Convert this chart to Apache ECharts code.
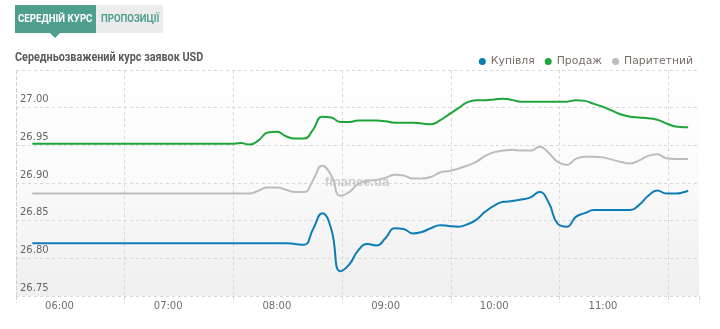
<!DOCTYPE html>
<html>
<head>
<meta charset="utf-8">
<script src="https://cdn.jsdelivr.net/npm/echarts@6/dist/echarts.min.js"></script>
<style>
  html, body { margin: 0; padding: 0; background: #fff; }
  #chart { width: 720px; height: 329px; }
</style>
</head>
<body>
<div id="chart"></div>
<script>
// Weighted average USD order rates over the trading morning
const times = [
  '05:45', '06:00', '06:15', '06:30', '06:45', '07:00', '07:15', '07:30', '07:35',
  '07:40', '07:45', '07:50', '07:55', '08:00', '08:05', '08:10', '08:15', '08:20', '08:25',
  '08:30', '08:35', '08:40', '08:45', '08:50', '08:55', '09:00', '09:05', '09:10', '09:15',
  '09:20', '09:25', '09:30', '09:35', '09:40', '09:45', '09:50', '09:55', '10:00', '10:05',
  '10:10', '10:15', '10:20', '10:25', '10:30', '10:35', '10:40', '10:45', '10:50', '10:55',
  '11:00', '11:05', '11:10', '11:15', '11:20', '11:25', '11:30', '11:35', '11:40', '11:45',
  '11:47'
];

const buyRates = [
  26.820, 26.820, 26.820, 26.820, 26.820, 26.820, 26.820, 26.820, 26.820,
  26.820, 26.820, 26.820, 26.820, 26.820, 26.820, 26.819, 26.818, 26.839, 26.860,
  26.839, 26.783, 26.792, 26.811, 26.819, 26.817, 26.827, 26.840, 26.839, 26.833,
  26.835, 26.840, 26.844, 26.843, 26.842, 26.845, 26.851, 26.862, 26.870, 26.875,
  26.876, 26.878, 26.881, 26.888, 26.874, 26.846, 26.842, 26.855, 26.860, 26.864,
  26.864, 26.864, 26.864, 26.864, 26.871, 26.883, 26.890, 26.886, 26.886, 26.888,
  26.890
];

const sellRates = [
  26.952, 26.952, 26.952, 26.952, 26.952, 26.952, 26.952, 26.952, 26.952,
  26.953, 26.951, 26.957, 26.967, 26.968, 26.962, 26.959, 26.959, 26.971, 26.988,
  26.987, 26.981, 26.981, 26.983, 26.983, 26.983, 26.982, 26.980, 26.980, 26.980,
  26.979, 26.978, 26.983, 26.991, 26.999, 27.007, 27.010, 27.010, 27.011, 27.012,
  27.010, 27.008, 27.008, 27.008, 27.008, 27.008, 27.008, 27.010, 27.009, 27.005,
  27.001, 26.996, 26.991, 26.988, 26.987, 26.986, 26.984, 26.979, 26.975, 26.974,
  26.974
];

const parityRates = [
  26.886, 26.886, 26.886, 26.886, 26.886, 26.886, 26.886, 26.886, 26.886,
  26.886, 26.886, 26.890, 26.894, 26.894, 26.891, 26.888, 26.888, 26.904, 26.923,
  26.910, 26.883, 26.888, 26.899, 26.903, 26.904, 26.907, 26.911, 26.910, 26.906,
  26.906, 26.908, 26.914, 26.916, 26.919, 26.923, 26.928, 26.936, 26.941, 26.943,
  26.944, 26.943, 26.943, 26.948, 26.940, 26.928, 26.924, 26.932, 26.935, 26.935,
  26.934, 26.931, 26.928, 26.926, 26.930, 26.936, 26.938, 26.933, 26.932, 26.932,
  26.932
];

const hourLabels = ['06:00', '07:00', '08:00', '09:00', '10:00', '11:00'];
const seriesNames = ['Купівля', 'Продаж', 'Паритетний'];
const seriesColors = ['#0f7db5', '#1ea53a', '#bdbdbd'];

const toMinutes = t => { const [h, m] = t.split(':').map(Number); return h * 60 + m; };
const pad = n => String(n).padStart(2, '0');
const fmtTime = v => pad(Math.floor(v / 60)) + ':' + pad(Math.round(v % 60));

// visible time window: 05:36 .. 11:53
const X_MIN = 336;
const X_MAX = 713;

const chart = echarts.init(document.getElementById('chart'), null, { renderer: 'canvas' });

const pairs = vals => times.map((t, i) => [toMinutes(t), vals[i]]);

const lineSeries = [buyRates, sellRates, parityRates].map((vals, i) => ({
  name: seriesNames[i],
  type: 'line',
  xAxisIndex: 0,
  data: pairs(vals),
  smooth: 0.5,
  showSymbol: false,
  symbol: 'circle',
  color: seriesColors[i],
  lineStyle: { width: 2, color: seriesColors[i] },
  z: 3
}));

const uiFont = 'DejaVu Sans';

chart.setOption({
  animation: false,
  backgroundColor: '#ffffff',
  grid: {
    left: 16, right: 21, top: 70, bottom: 33,
    show: true,
    borderWidth: 0,
    backgroundColor: new echarts.graphic.LinearGradient(0, 0, 0, 1, [
      { offset: 0, color: '#ffffff' },
      { offset: 0.45, color: '#fbfbfb' },
      { offset: 1, color: '#efefef' }
    ])
  },
  legend: {
    data: seriesNames,
    right: 22,
    top: 51,
    icon: 'circle',
    itemWidth: 7,
    itemHeight: 7,
    itemGap: 10,
    textStyle: { color: '#7d6b6b', fontFamily: uiFont, fontSize: 10.8 }
  },
  xAxis: [
    {
      type: 'value',
      min: X_MIN,
      max: X_MAX,
      interval: 60,
      position: 'bottom',
      axisLine: { show: false },
      axisTick: { show: true, length: 7, lineStyle: { color: '#d4d4d4', type: 'dashed' } },
      axisLabel: { show: false },
      splitLine: { show: true, showMaxLine: false, lineStyle: { color: '#d8d8d8', type: [3, 3] } }
    },
    {
      type: 'value',
      min: X_MIN,
      max: X_MAX,
      position: 'bottom',
      axisLine: { show: false },
      axisTick: { show: false },
      splitLine: { show: false },
      axisLabel: {
        customValues: hourLabels.map(toMinutes),
        formatter: v => fmtTime(v),
        margin: 5,
        color: '#6f6f6f',
        fontFamily: uiFont,
        fontSize: 10
      }
    }
  ],
  yAxis: {
    type: 'value',
    min: 26.75,
    max: 27.05,
    interval: 0.05,
    axisLine: { show: true, lineStyle: { color: '#cfcfcf', type: [3, 3] } },
    axisTick: { show: false },
    splitLine: { show: true, lineStyle: { color: '#d8d8d8', type: [3, 3] } },
    axisLabel: {
      inside: true,
      margin: 4,
      verticalAlign: 'bottom',
      padding: [0, 0, 3, 0],
      showMaxLabel: false,
      formatter: v => v.toFixed(2),
      color: '#666666',
      fontFamily: uiFont,
      fontSize: 10
    }
  },
  graphic: [
    // tab bar
    { type: 'rect', shape: { x: 15, y: 5, width: 81, height: 28 }, style: { fill: '#4f9f8e' } },
    { type: 'polygon', shape: { points: [[50, 33], [60, 33], [55, 38]] }, style: { fill: '#4f9f8e' } },
    { type: 'rect', shape: { x: 96, y: 5, width: 67, height: 28 }, style: { fill: '#ececec' } },
    {
      type: 'text', x: 18, y: 19, scaleX: 0.88,
      style: { text: 'СЕРЕДНІЙ КУРС', fill: '#ffffff', font: 'bold 11px Roboto', textVerticalAlign: 'middle' }
    },
    {
      type: 'text', x: 101, y: 19, scaleX: 0.87,
      style: { text: 'ПРОПОЗИЦІЇ', fill: '#4f9f8e', font: 'bold 11px Roboto', textVerticalAlign: 'middle' }
    },
    // chart heading
    {
      type: 'text', x: 15, y: 58, scaleX: 0.9,
      style: { text: 'Середньозважений курс заявок USD', fill: '#5a5a5a', font: 'bold 12px Roboto', textVerticalAlign: 'middle' }
    },
    // site mark
    {
      type: 'text', x: 357, y: 182, z: 1,
      style: { text: 'finance.ua', fill: 'rgba(150,150,150,0.45)', font: 'bold 13px "Liberation Sans"', textAlign: 'center', textVerticalAlign: 'middle' }
    }
  ],
  series: lineSeries
});
</script>
</body>
</html>
